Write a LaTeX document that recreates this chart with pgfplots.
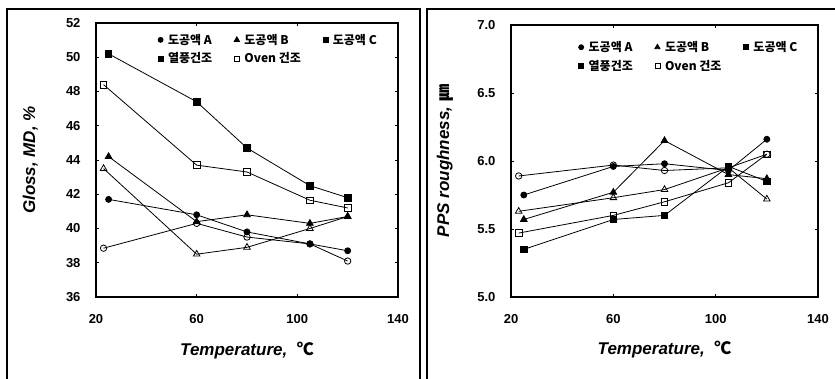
\documentclass[border=0pt]{standalone}
\usepackage{fontspec}
\setmainfont{Liberation Sans}
\newfontfamily\kr{Noto Sans CJK KR}
\usepackage{pgfplots}
\pgfplotsset{compat=1.18}
\begin{document}
\begin{tikzpicture}
\useasboundingbox (0pt,0pt) rectangle (835pt,378pt);
\draw[line width=1.1pt] (7pt,-5pt) -- (7pt,369pt) -- (420pt,369pt) -- (420pt,-5pt);
\draw[line width=1.1pt] (427pt,-5pt) -- (427pt,369pt) -- (840pt,369pt);
\pgfplotsset{
  myax/.style={
    scale only axis, xmin=20, xmax=140, xtick={20,60,100,140},
    axis line style={line width=1.6pt},
    tick style={black, line width=0.6pt}, major tick length=3pt,
    tick label style={font=\bfseries\fontsize{13}{15}\selectfont},
    /pgf/number format/assume math mode=true,
    xticklabel style={yshift=-14pt},
    yticklabel style={xshift=-12pt},
    label style={font=\bfseries\fontsize{17}{20}\selectfont},
    xlabel={\itshape Temperature,\ \ {\kr\bfseries ℃}},
    xlabel style={at={(axis description cs:0.5,-0.195)}, anchor=center},
    legend style={draw=none, fill=none, font=\kr\bfseries\fontsize{12}{14}\selectfont,
      anchor=north west, row sep=3pt,
      /tikz/every odd column/.append style={column sep=3pt},
      /tikz/every even column/.append style={column sep=20pt}},
    legend columns=3, legend cell align=left,
    legend image code/.code={\draw[#1] plot coordinates {(0.1cm,0cm)};},
    every axis plot/.append style={black, line width=0.8pt},
  },
  ah/.style={mark=*, mark size=3pt},
  ao/.style={mark=o, mark size=3.2pt, mark options={fill=white}},
  bh/.style={mark=triangle*, mark size=3.8pt},
  bo/.style={mark=triangle, mark size=3.8pt, mark options={fill=white}},
  ch/.style={mark=square*, mark size=3.3pt},
  co/.style={mark=square, mark size=3.3pt, mark options={fill=white}},
}
\begin{axis}[myax, at={(96pt,81pt)}, anchor=south west, width=302pt, height=274pt,
  ymin=36, ymax=52, ytick={36,38,...,52},
  ylabel={\itshape Gloss, MD, \%},
  ylabel style={at={(axis description cs:-0.218,0.5)}, anchor=center},
  legend style={at={(axis description cs:0.195,0.975)}}]
\addlegendimage{only marks, mark=*, mark size=2.5pt}
\addlegendentry{도공액 A}
\addlegendimage{only marks, mark=triangle*, mark size=3pt}
\addlegendentry{도공액 B}
\addlegendimage{only marks, mark=square*, mark size=2.5pt}
\addlegendentry{도공액 C}
\addlegendimage{only marks, mark=square*, mark size=2.5pt}
\addlegendentry{열풍건조}
\addlegendimage{only marks, mark=square, mark size=2.5pt, line width=0.6pt}
\addlegendentry{Oven 건조}
\addplot[ah, forget plot] coordinates {(25,41.7)(60,40.8)(80,39.8)(105,39.1)(120,38.7)};
\addplot[bh, forget plot] coordinates {(25,44.2)(60,40.4)(80,40.8)(105,40.3)(120,40.7)};
\addplot[ch, forget plot] coordinates {(25,50.2)(60,47.4)(80,44.7)(105,42.5)(120,41.8)};
\addplot[ao, forget plot] coordinates {(23,38.85)(60,40.3)(80,39.5)(105,39.1)(120,38.1)};
\addplot[bo, forget plot] coordinates {(23,43.5)(60,38.5)(80,38.9)(105,40.0)(120,40.7)};
\addplot[co, forget plot] coordinates {(23,48.4)(60,43.7)(80,43.3)(105,41.65)(120,41.2)};
\end{axis}
\begin{axis}[myax, at={(511pt,81pt)}, anchor=south west, width=307pt, height=272pt,
  ymin=5, ymax=7, ytick={5,5.5,6,6.5,7},
  yticklabel style={/pgf/number format/.cd, fixed, fixed zerofill, precision=1},
  ylabel={\itshape PPS roughness,\ {\kr\bfseries ㎛}},
  ylabel style={at={(axis description cs:-0.215,0.5)}, anchor=center},
  legend style={at={(axis description cs:0.21,0.955)}}]
\addlegendimage{only marks, mark=*, mark size=2.5pt}
\addlegendentry{도공액 A}
\addlegendimage{only marks, mark=triangle*, mark size=3pt}
\addlegendentry{도공액 B}
\addlegendimage{only marks, mark=square*, mark size=2.5pt}
\addlegendentry{도공액 C}
\addlegendimage{only marks, mark=square*, mark size=2.5pt}
\addlegendentry{열풍건조}
\addlegendimage{only marks, mark=square, mark size=2.5pt, line width=0.6pt}
\addlegendentry{Oven 건조}
\addplot[ah, forget plot] coordinates {(25,5.75)(60,5.96)(80,5.98)(105,5.93)(120,6.16)};
\addplot[bh, forget plot] coordinates {(25,5.57)(60,5.77)(80,6.15)(105,5.90)(120,5.87)};
\addplot[ch, forget plot] coordinates {(25,5.35)(60,5.57)(80,5.60)(105,5.96)(120,5.85)};
\addplot[ao, forget plot] coordinates {(23,5.89)(60,5.97)(80,5.93)(105,5.95)(120,6.05)};
\addplot[bo, forget plot] coordinates {(23,5.63)(60,5.73)(80,5.79)(105,5.95)(120,5.72)};
\addplot[co, forget plot] coordinates {(23,5.47)(60,5.60)(80,5.70)(105,5.84)(120,6.05)};
\end{axis}
\end{tikzpicture}
\end{document}
